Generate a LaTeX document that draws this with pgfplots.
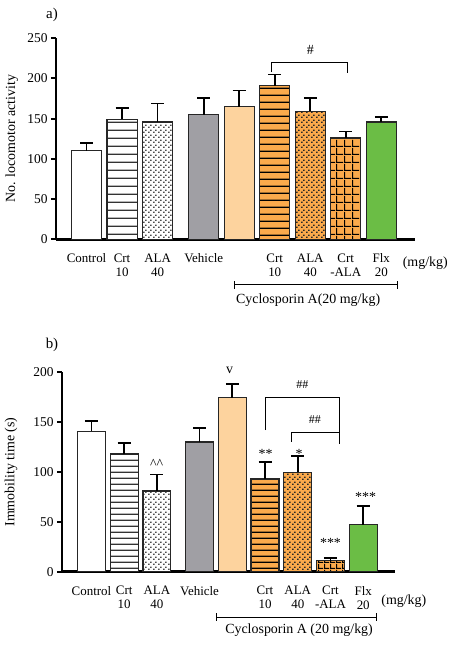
\documentclass[border=0pt]{standalone}
\usepackage{fontspec}
\setmainfont{Liberation Serif}
\usepackage{pgfplots}
\pgfplotsset{compat=1.18}
\usetikzlibrary{patterns}

\definecolor{grayC}{HTML}{A09FA4}
\definecolor{peachC}{HTML}{FDD39E}
\definecolor{orangeC}{HTML}{FBAA4C}
\definecolor{greenC}{HTML}{6BBD45}

\pgfdeclarepatternformonly{hlinesA}{\pgfqpoint{0pt}{0pt}}{\pgfqpoint{10pt}{7.5pt}}{\pgfqpoint{10pt}{7.5pt}}{\pgfpathrectangle{\pgfqpoint{0pt}{0pt}}{\pgfqpoint{10pt}{1.4pt}}\pgfusepath{fill}}
\pgfdeclarepatternformonly{hlinesB}{\pgfqpoint{0pt}{0pt}}{\pgfqpoint{10pt}{6pt}}{\pgfqpoint{10pt}{6pt}}{\pgfpathrectangle{\pgfqpoint{0pt}{0pt}}{\pgfqpoint{10pt}{1.4pt}}\pgfusepath{fill}}
\pgfdeclarepatternformonly{mydots}{\pgfqpoint{0pt}{0pt}}{\pgfqpoint{4.5pt}{4.5pt}}{\pgfqpoint{4.5pt}{4.5pt}}{\pgfpathrectangle{\pgfqpoint{0pt}{0pt}}{\pgfqpoint{1.8pt}{1.4pt}}\pgfpathrectangle{\pgfqpoint{2.25pt}{2.25pt}}{\pgfqpoint{1.8pt}{1.4pt}}\pgfusepath{fill}}
\pgfdeclarepatternformonly{gridA}{\pgfqpoint{0pt}{0pt}}{\pgfqpoint{7.5pt}{7.5pt}}{\pgfqpoint{7.5pt}{7.5pt}}{\pgfpathrectangle{\pgfqpoint{0pt}{0pt}}{\pgfqpoint{7.5pt}{1.2pt}}\pgfpathrectangle{\pgfqpoint{0pt}{0pt}}{\pgfqpoint{1.2pt}{7.5pt}}\pgfusepath{fill}}
\pgfdeclarepatternformonly{gridB}{\pgfqpoint{0pt}{0pt}}{\pgfqpoint{5.5pt}{5.5pt}}{\pgfqpoint{5.5pt}{5.5pt}}{\pgfpathrectangle{\pgfqpoint{0pt}{0pt}}{\pgfqpoint{5.5pt}{1.2pt}}\pgfpathrectangle{\pgfqpoint{0pt}{0pt}}{\pgfqpoint{1.2pt}{5.5pt}}\pgfusepath{fill}}

\pgfplotsset{
  panel/.style={
    scale only axis,
    axis x line*=bottom, axis y line*=left,
    axis line style={line width=2.7bp, -},
    ymin=0,
    xtick={0,1,2,3.3,4.3,5.3,6.3,7.3,8.3},
    xticklabels={Control,{Crt\\10},{ALA\\40},Vehicle,{},{Crt\\10},{ALA\\40},{Crt\\-ALA},{Flx\\20}},
    x tick label style={align=center, font=\fontsize{13}{14}\selectfont, anchor=north, yshift=-6bp},
    major x tick style={draw=none},
    major y tick style={line width=2bp, black},
    major tick length=5bp,
    tick align=outside,
    y tick label style={font=\fontsize{13.5}{14}\selectfont},
    /pgf/number format/assume math mode=true,
    ylabel style={font=\fontsize{14}{16}\selectfont, anchor=center},
    clip=false,
  },
  mybar/.style={ybar, bar width=0.85, bar shift=0pt, draw=black!85, line width=1.2bp, mark=none,
    error bars/y dir=plus, error bars/y explicit,
    error bars/error bar style={line width=1.8bp, black},
    error bars/error mark options={rotate=90, mark size=6.5bp, line width=1.8bp, black}},
}

\begin{document}
\begin{tikzpicture}
\path[use as bounding box] (0,0) rectangle (450bp,646bp);

% ---------------- panel a ----------------
\begin{axis}[panel,
  at={(56bp,406.7bp)}, anchor=south west,
  width=359bp, height=201bp,
  xmin=-0.86, xmax=9.25, ymax=250,
  ytick={0,50,...,250},
  ylabel={No. locomotor activity},
  ylabel style={at={(axis description cs:-0.123,0.5)}},
]
\addplot[mybar, fill=white] coordinates {(0,110) +- (0,10)};
\addplot[mybar, fill=white, postaction={pattern=hlinesA, pattern color=black!80}] coordinates {(1,149) +- (0,14)};
\addplot[mybar, fill=white, postaction={pattern=mydots, pattern color=black!70}] coordinates {(2,146) +- (0,23)};
\addplot[mybar, fill=grayC] coordinates {(3.3,155) +- (0,21)};
\addplot[mybar, fill=peachC] coordinates {(4.3,165) +- (0,20)};
\addplot[mybar, fill=orangeC, postaction={pattern=hlinesA, pattern color=black}] coordinates {(5.3,191) +- (0,14)};
\addplot[mybar, fill=orangeC, postaction={pattern=mydots, pattern color=black!85}] coordinates {(6.3,159) +- (0,17)};
\addplot[mybar, fill=orangeC, postaction={pattern=gridA, pattern color=black}] coordinates {(7.3,126) +- (0,8)};
\addplot[mybar, fill=greenC] coordinates {(8.3,146) +- (0,6.5)};

\draw[line width=1bp] (axis cs:5.2,208) |- (axis cs:7.35,220) -- (axis cs:7.35,207);
\node[font=\fontsize{14}{16}\selectfont] at (axis cs:6.3,236) {\#};
\node[font=\fontsize{14}{16}\selectfont] at (axis cs:9.54,-29.5) {(mg/kg)};
\draw[line width=1bp] (axis cs:4.18,-56.8) -- (axis cs:8.77,-56.8);
\draw[line width=1bp] (axis cs:4.18,-52) -- (axis cs:4.18,-61.6);
\draw[line width=1bp] (axis cs:8.77,-52) -- (axis cs:8.77,-61.6);
\node[font=\fontsize{14}{16}\selectfont] at (axis cs:6.24,-76) {Cyclosporin A(20 mg/kg)};
\end{axis}

% ---------------- panel b ----------------
\begin{axis}[panel,
  at={(62bp,74.3bp)}, anchor=south west,
  width=333bp, height=199.4bp,
  xmin=-0.9, xmax=9.27, ymax=200,
  ytick={0,50,...,200},
  ylabel={Immobility time (s)},
  ylabel style={at={(axis description cs:-0.153,0.5)}},
]
\addplot[mybar, fill=white] coordinates {(0,141) +- (0,10)};
\addplot[mybar, fill=white, postaction={pattern=hlinesB, pattern color=black!80}] coordinates {(1,118) +- (0,11)};
\addplot[mybar, fill=white, postaction={pattern=mydots, pattern color=black!70}] coordinates {(2,81) +- (0,16.5)};
\addplot[mybar, fill=grayC] coordinates {(3.3,130) +- (0,14)};
\addplot[mybar, fill=peachC] coordinates {(4.3,174.5) +- (0,14)};
\addplot[mybar, fill=orangeC, postaction={pattern=hlinesB, pattern color=black}] coordinates {(5.3,93) +- (0,17)};
\addplot[mybar, fill=orangeC, postaction={pattern=mydots, pattern color=black!85}] coordinates {(6.3,99.5) +- (0,16.5)};
\addplot[mybar, fill=orangeC, postaction={pattern=gridB, pattern color=black}] coordinates {(7.3,11) +- (0,3)};
\addplot[mybar, fill=greenC] coordinates {(8.3,47) +- (0,19)};

\draw[line width=1bp] (axis cs:5.3,142) |- (axis cs:7.57,175.2) -- (axis cs:7.57,127.8);
\draw[line width=1bp] (axis cs:6.12,130.4) |- (axis cs:7.57,139.4);
\node[font=\fontsize{12}{14}\selectfont] at (axis cs:6.44,188) {\#\#};
\node[font=\fontsize{12}{14}\selectfont] at (axis cs:6.82,153) {\#\#};
\node[font=\fontsize{14}{16}\selectfont] at (axis cs:5.32,118) {**};
\node[font=\fontsize{14}{16}\selectfont] at (axis cs:6.34,118.5) {*};
\node[font=\fontsize{14}{16}\selectfont] at (axis cs:7.3,29) {***};
\node[font=\fontsize{14}{16}\selectfont] at (axis cs:8.37,75) {***};
\node[font=\fontsize{14}{16}\selectfont] at (axis cs:1.99,108) {\textasciicircum\textasciicircum};
\node[font=\fontsize{14}{16}\selectfont] at (axis cs:4.22,201.6) {v};
\node[font=\fontsize{14}{16}\selectfont] at (axis cs:9.54,-30) {(mg/kg)};
\draw[line width=1bp] (axis cs:3.83,-45.7) -- (axis cs:8.72,-45.7);
\draw[line width=1bp] (axis cs:3.83,-41.7) -- (axis cs:3.83,-49.7);
\draw[line width=1bp] (axis cs:8.72,-41.7) -- (axis cs:8.72,-49.7);
\node[font=\fontsize{14}{16}\selectfont] at (axis cs:6.34,-58.5) {Cyclosporin A (20 mg/kg)};
\end{axis}

\node[font=\fontsize{15}{16}\selectfont] at (52bp,631bp) {a)};
\node[font=\fontsize{15}{16}\selectfont] at (52bp,301bp) {b)};
\end{tikzpicture}
\end{document}
